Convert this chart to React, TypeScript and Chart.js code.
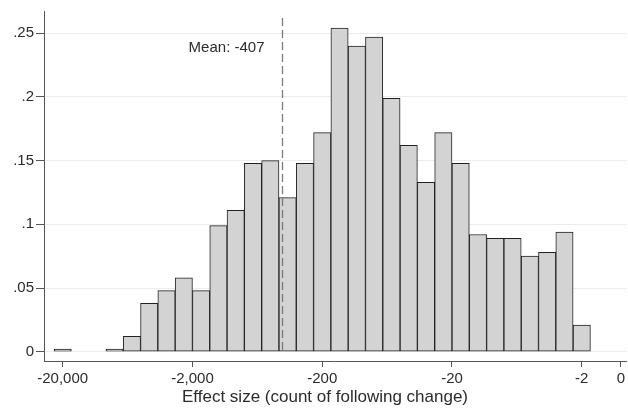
import React, { useEffect, useRef } from "react";
import { Chart, registerables } from "chart.js";

Chart.register(...registerables);

// Histogram densities, one per bin (bins centred from -20,000 to -2, equal width on the log axis)
const density = [
  0.002, 0, 0, 0.002, 0.012, 0.038, 0.048, 0.058, 0.048, 0.099, 0.111,
  0.148, 0.15, 0.121, 0.148, 0.172, 0.254, 0.24, 0.247, 0.199, 0.162,
  0.133, 0.172, 0.148, 0.092, 0.089, 0.089, 0.075, 0.078, 0.094, 0.021,
];
const firstBinCenter = -20000;
const lastBinCenter = -2;

const xTickValues = [-20000, -2000, -200, -20, -2, 0];
const xTickLabels = ["-20,000", "-2,000", "-200", "-20", "-2", "0"];
const yTickValues = [0, 0.05, 0.1, 0.15, 0.2, 0.25];
const yTickLabels = ["0", ".05", ".1", ".15", ".2", ".25"];

const meanValue = -407;
const meanLabel = "Mean: -407";
const xTitle = "Effect size (count of following change)";

// axis transform: -log10(|x|), 0 placed at |x| = 1
const tf = (v: number) => (v === 0 ? 0 : -Math.log10(Math.abs(v)));

const FONT = '"Liberation Sans", Arial, Helvetica, sans-serif';

export default function App() {
  const ref = useRef<HTMLCanvasElement | null>(null);

  useEffect(() => {
    if (!ref.current) return;
    const t0 = tf(firstBinCenter);
    const t1 = tf(lastBinCenter);
    const n = density.length;
    const data = density.map((d, k) => ({
      x: t0 + (k * (t1 - t0)) / (n - 1),
      y: d > 0 ? d : null,
    }));

    const meanPlugin = {
      id: "meanLine",
      afterDatasetsDraw(chart: any) {
        const { ctx, scales } = chart;
        const x = scales.x;
        const y = scales.y;
        const px = Math.round(x.getPixelForValue(tf(meanValue))) + 0.5;
        ctx.save();
        ctx.beginPath();
        ctx.setLineDash([8, 4]);
        ctx.strokeStyle = "#7a7a7a";
        ctx.lineWidth = 1.3;
        ctx.moveTo(px, y.getPixelForValue(0.262));
        ctx.lineTo(px, y.getPixelForValue(0));
        ctx.stroke();
        ctx.setLineDash([]);
        ctx.fillStyle = "#2b2b2b";
        ctx.font = `15px ${FONT}`;
        ctx.textAlign = "right";
        ctx.textBaseline = "alphabetic";
        ctx.fillText(meanLabel, px - 18, y.getPixelForValue(0.2356));
        // x-axis title, centred on the whole graph region
        ctx.font = `17px ${FONT}`;
        ctx.textAlign = "center";
        ctx.fillText(xTitle, 325, 401.5);
        ctx.restore();
      },
    };

    const chart = new Chart(ref.current, {
      type: "bar",
      data: {
        datasets: [
          {
            data: data as any,
            backgroundColor: "#d3d3d3",
            borderColor: "#222222",
            borderWidth: 1,
            borderSkipped: false,
            barPercentage: 1,
            categoryPercentage: 1,
          },
        ],
      },
      options: {
        responsive: false,
        animation: false,
        devicePixelRatio: 1,
        layout: { padding: { top: 10, right: 0, left: 0, bottom: 0 } },
        plugins: {
          legend: { display: false },
          tooltip: { enabled: false },
        },
        scales: {
          x: {
            type: "linear",
            offset: false,
            min: -4.445,
            max: 0.044,
            afterBuildTicks: (s: any) => {
              s.ticks = xTickValues.map((v) => ({ value: tf(v) }));
            },
            afterFit: (s: any) => {
              s.height = 51;
            },
            ticks: {
              autoSkip: false,
              maxRotation: 0,
              minRotation: 0,
              padding: 3,
              color: "#2b2b2b",
              font: { family: FONT, size: 15 },
              callback: (_v: any, i: number) => xTickLabels[i],
            },
            grid: {
              offset: false,
              drawOnChartArea: false,
              drawTicks: true,
              tickLength: 6,
              tickColor: "#555555",
            },
            border: { display: true, color: "#555555", width: 1 },
            title: { display: false },
          },
          y: {
            type: "linear",
            min: -0.00728,
            max: 0.2675,
            afterBuildTicks: (s: any) => {
              s.ticks = yTickValues.map((v) => ({ value: v }));
            },
            afterFit: (s: any) => {
              s.width = 44;
            },
            ticks: {
              padding: 2,
              color: "#2b2b2b",
              font: { family: FONT, size: 15 },
              callback: (_v: any, i: number) => yTickLabels[i],
            },
            grid: {
              color: "#ececec",
              lineWidth: 1,
              tickLength: 8,
              tickColor: "#555555",
            },
            border: { display: true, color: "#555555", width: 1 },
          },
        },
      },
      plugins: [meanPlugin],
    });
    return () => chart.destroy();
  }, []);

  return (
    <div
      style={{
        position: "fixed",
        left: 0,
        top: 0,
        width: 628,
        height: 412,
        background: "#ffffff",
      }}
    >
      <canvas ref={ref} width={628} height={412} />
    </div>
  );
}
